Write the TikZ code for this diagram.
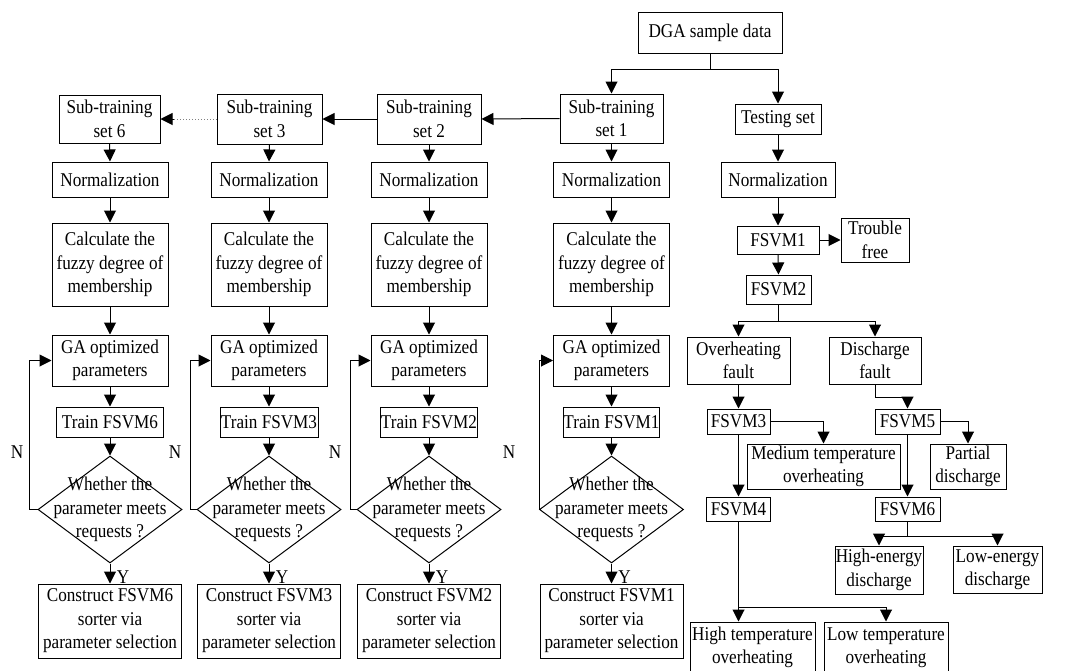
\documentclass[tikz,border=0pt]{standalone}
\usepackage{fontspec}
\setmainfont[FakeStretch=0.88]{Liberation Serif}
\usetikzlibrary{arrows.meta,shapes.geometric}
\newcommand\dfont{\fontsize{19.5}{23.5}\selectfont}
\tikzset{
  box/.style={draw, line width=1pt, align=center, inner sep=0pt, font=\dfont},
  dia/.style={draw, diamond, line width=1pt, inner sep=0pt},
  arr/.style={line width=1pt, -{Triangle[length=12pt,width=12pt]}},
  ln/.style={line width=1pt},
  lbl/.style={font=\dfont, inner sep=0pt},
  dt/.style={draw=gray, dotted, line width=1pt}
}
\begin{document}
\begin{tikzpicture}[x=1pt,y=-1pt]
\useasboundingbox (0,0) rectangle (1069,670);
\clip (0,0) rectangle (1069,670);
% top
\node[box, minimum width=144, minimum height=41] (dga) at (710,32.5) {DGA sample data};
\node[box, minimum width=101, minimum height=48] (s6) at (109.5,119) {Sub-training\\set 6};
\node[box, minimum width=105, minimum height=50] (s3) at (269.5,119) {Sub-training\\set 3};
\node[box, minimum width=104, minimum height=50] (s2) at (429,119) {Sub-training\\set 2};
\node[box, minimum width=103, minimum height=49] (s1) at (611.5,118.5) {Sub-training\\set 1};
\node[box, minimum width=86, minimum height=30] (test) at (778,119) {Testing set};
\coordinate (j0) at (710,69);
\draw[ln] (dga.south) -- (j0);
\draw[arr] (j0) -| (s1.north);
\draw[arr] (j0) -| (test.north);
\draw[arr] (s1.west) -- (s2.east);
\draw[arr] (s2.west) -- (s3.east);
\draw[dt] (s3.west) -- ([xshift=13pt]s6.east);
\draw[arr] ([xshift=13pt]s6.east) -- (s6.east);
% columns
\foreach \n/\cx/\tw/\lx/\nx in {6/110/107/29/17, 3/269/98/190/175, 2/429/97/350/335, 1/611.5/95/539/509}{
  \node[box, minimum width=116, minimum height=35] (n\n) at (\cx,179.5) {Normalization};
  \node[box, minimum width=116, minimum height=83] (c\n) at (\cx,264.5) {Calculate the\\fuzzy degree of\\membership};
  \node[box, minimum width=116, minimum height=51] (g\n) at (\cx,360.5) {GA optimized\\parameters};
  \node[box, minimum width=\tw, minimum height=30] (t\n) at (\cx,422) {Train FSVM\n};
  \node[dia, minimum width=144, minimum height=107] (d\n) at (\cx,509.5) {};
  \node[lbl, align=center] at (d\n) {Whether the\\parameter meets\\requests ?};
  \node[box, minimum width=143, minimum height=74] (k\n) at (\cx,621) {Construct FSVM\n\\sorter via\\parameter selection};
  \draw[arr] (s\n.south) -- (n\n.north);
  \draw[arr] (n\n.south) -- (c\n.north);
  \draw[arr] (c\n.south) -- (g\n.north);
  \draw[arr] (g\n.south) -- (t\n.north);
  \draw[arr] (t\n.south) -- (d\n.north);
  \draw[arr] (d\n.south) -- (k\n.north);
  \draw[arr] (d\n.west) -- (\lx,509.5) |- (g\n.west);
  \node[lbl] at (\nx,452) {N};
  \node[lbl] at (\cx+13,577) {Y};
}
% test branch
\node[box, minimum width=114, minimum height=35] (tn) at (778,179.5) {Normalization};
\node[box, minimum width=82, minimum height=28] (f1) at (778,240) {FSVM1};
\node[box, minimum width=68, minimum height=44] (tf) at (875,240) {Trouble\\free};
\node[box, minimum width=65, minimum height=29] (f2) at (778.5,289.5) {FSVM2};
\node[box, minimum width=103, minimum height=47] (of) at (738.5,360.5) {Overheating\\fault};
\node[box, minimum width=92, minimum height=47] (df) at (875,360.5) {Discharge\\fault};
\node[box, minimum width=63, minimum height=25] (f3) at (738.5,421.5) {FSVM3};
\node[box, minimum width=65, minimum height=25] (f5) at (907.5,421.5) {FSVM5};
\node[box, minimum width=153, minimum height=45] (mt) at (823.5,466.5) {Medium temperature\\overheating};
\node[box, minimum width=76, minimum height=45] (pd) at (968,466.5) {Partial\\discharge};
\node[box, minimum width=64, minimum height=24] (f4) at (738.5,509) {FSVM4};
\node[box, minimum width=65, minimum height=24] (f6) at (907.5,509) {FSVM6};
\node[box, minimum width=88, minimum height=48] (he) at (879,570) {High-energy\\discharge};
\node[box, minimum width=89, minimum height=47] (le) at (997.5,569.5) {Low-energy\\discharge};
\node[box, minimum width=125, minimum height=51] (ht) at (752.5,647.5) {High temperature\\overheating};
\node[box, minimum width=124, minimum height=51] (lt) at (886,647.5) {Low temperature\\overheating};
\draw[arr] (test.south) -- (tn.north);
\draw[arr] (tn.south) -- (f1.north);
\draw[arr] (f1.east) -- (tf.west);
\draw[arr] (f1.south) -- (f2.north);
\coordinate (j2) at (778.5,321);
\draw[ln] (f2.south) -- (j2);
\draw[arr] (j2) -| (of.north);
\draw[arr] (j2) -| (df.north);
\draw[arr] (of.south) -- (f3.north);
\draw[arr] (df.south) -- ++(0,13) -| (f5.north);
\draw[arr] (f3.east) -| (mt.north);
\draw[arr] (f5.east) -| (pd.north);
\draw[arr] (f3.south) -- (f4.north);
\draw[arr] (f5.south) -- (f6.north);
\coordinate (j6) at (907.5,536);
\draw[ln] (f6.south) -- (j6);
\draw[arr] (j6) -| (he.north);
\draw[arr] (j6) -| (le.north);
\coordinate (j4) at (738.5,607);
\draw[ln] (f4.south) -- (j4);
\draw[arr] (j4) -- (j4 |- ht.north);
\draw[arr] (j4) -| (lt.north);
\end{tikzpicture}
\end{document}
